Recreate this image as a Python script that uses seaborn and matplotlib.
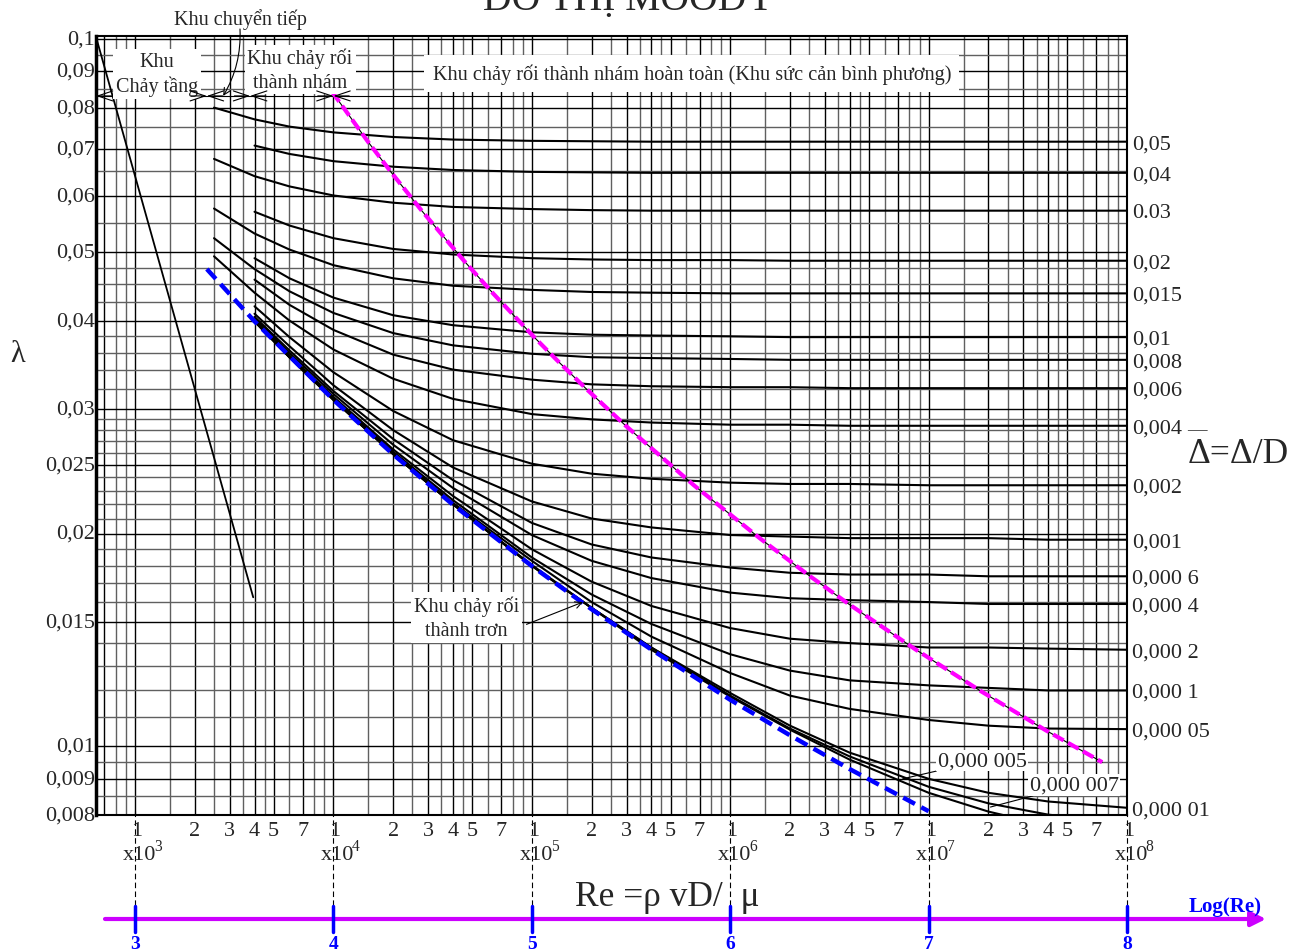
import numpy as np
import pandas as pd
import matplotlib
matplotlib.use("Agg")
import matplotlib.pyplot as plt
import matplotlib.transforms as mtransforms
import seaborn as sns

# ---- Datos (Re, lambda) ----
nan = np.nan
RE = [2500, 4000, 6000, 1e4, 2e4, 4e4, 1e5, 2e5, 4e5, 1e6, 2e6, 4e6, 1e7, 2e7, 4e7, 1e8]

lam_05 = [0.0800, 0.0770, 0.0752, 0.0738, 0.0727, 0.0721, 0.0718, 0.0717, 0.0716, 0.0716, 0.0716, 0.0716, 0.0716, 0.0716, 0.0716, 0.0716]
lam_04 = [nan, 0.0707, 0.0688, 0.0672, 0.0660, 0.0653, 0.0649, 0.0648, 0.0647, 0.0647, 0.0647, 0.0647, 0.0647, 0.0647, 0.0647, 0.0647]
lam_03 = [0.0677, 0.0640, 0.0619, 0.0601, 0.0587, 0.0579, 0.0575, 0.0573, 0.0572, 0.0572, 0.0572, 0.0572, 0.0572, 0.0572, 0.0572, 0.0572]
lam_02 = [nan, 0.0570, 0.0545, 0.0523, 0.0505, 0.0496, 0.0490, 0.0488, 0.0487, 0.0487, 0.0486, 0.0486, 0.0486, 0.0486, 0.0486, 0.0486]
lam_015 = [0.0576, 0.0531, 0.0504, 0.0479, 0.0459, 0.0448, 0.0442, 0.0439, 0.0438, 0.0437, 0.0437, 0.0437, 0.0437, 0.0437, 0.0437, 0.0437]
lam_01 = [nan, 0.0490, 0.0459, 0.0431, 0.0407, 0.0394, 0.0385, 0.0382, 0.0381, 0.0380, 0.0379, 0.0379, 0.0379, 0.0379, 0.0379, 0.0379]
lam_008 = [0.0523, 0.0473, 0.0440, 0.0410, 0.0384, 0.0369, 0.0359, 0.0355, 0.0354, 0.0353, 0.0352, 0.0352, 0.0352, 0.0352, 0.0352, 0.0352]
lam_006 = [nan, 0.0457, 0.0421, 0.0388, 0.0358, 0.0341, 0.0330, 0.0325, 0.0323, 0.0322, 0.0322, 0.0321, 0.0321, 0.0321, 0.0321, 0.0321]
lam_004 = [0.0493, 0.0438, 0.0400, 0.0364, 0.0331, 0.0310, 0.0295, 0.0290, 0.0287, 0.0285, 0.0285, 0.0284, 0.0284, 0.0284, 0.0284, 0.0284]
lam_002 = [nan, 0.0419, 0.0379, 0.0338, 0.0298, 0.0271, 0.0251, 0.0243, 0.0239, 0.0236, 0.0235, 0.0235, 0.0234, 0.0234, 0.0234, 0.0234]
lam_001 = [nan, 0.0409, 0.0368, 0.0324, 0.0280, 0.0248, 0.0222, 0.0210, 0.0204, 0.0199, 0.0198, 0.0197, 0.0197, 0.0197, 0.0196, 0.0196]
lam_0006 = [nan, 0.0405, 0.0363, 0.0318, 0.0272, 0.0238, 0.0207, 0.0193, 0.0185, 0.0179, 0.0176, 0.0175, 0.0175, 0.0174, 0.0174, 0.0174]
lam_0004 = [nan, 0.0403, 0.0360, 0.0315, 0.0267, 0.0232, 0.0199, 0.0183, 0.0173, 0.0165, 0.0162, 0.0161, 0.0160, 0.0159, 0.0159, 0.0159]
lam_0002 = [nan, 0.0401, 0.0357, 0.0312, 0.0263, 0.0226, 0.0190, 0.0171, 0.0158, 0.0147, 0.0142, 0.0140, 0.0138, 0.0138, 0.01375, 0.0137]
lam_0001 = [nan, 0.0400, 0.0356, 0.0311, 0.0261, 0.0223, 0.0185, 0.0164, 0.0149, 0.0135, 0.0128, 0.0124, 0.0122, 0.0121, 0.0120, 0.0120]
lam_00005 = [nan, 0.0400, 0.0355, 0.0310, 0.0260, 0.0221, 0.0183, 0.0160, 0.0143, 0.0127, 0.0118, 0.0113, 0.0109, 0.0107, 0.0106, 0.01058]
lam_00001 = [nan, 0.0399, 0.0355, 0.0309, 0.0259, 0.0220, 0.01805, 0.0157, 0.0138, 0.0119, 0.0107, 0.0098, 0.0090, 0.0086, 0.00836, 0.00819]
lam_000007 = [nan, 0.0399, 0.0355, 0.0309, 0.0259, 0.0220, 0.0180, 0.0157, 0.0138, 0.0118, 0.0106, 0.00968, 0.00877, 0.00831, 0.00801, 0.0078]
lam_000005 = [nan, 0.0399, 0.0355, 0.0309, 0.0259, 0.0220, 0.0180, 0.0157, 0.0137, 0.01176, 0.01056, 0.00958, 0.0086, 0.00809, 0.00773, nan]

CURVAS = [lam_05, lam_04, lam_03, lam_02, lam_015, lam_01, lam_008, lam_006, lam_004,
          lam_002, lam_001, lam_0006, lam_0004, lam_0002, lam_0001, lam_00005,
          lam_00001, lam_000007, lam_000005]
ETIQUETAS = ['0,05', '0,04', '0.03', '0,02', '0,015', '0,01', '0,008', '0,006', '0,004',
             '0,002', '0,001', '0,000 6', '0,000 4', '0,000 2', '0,000 1', '0,000 05',
             '0,000 01', '', '']

# tubo liso (linea azul)
LISO_RE = [2300, 4000, 1e4, 2e4, 4e4, 1e5, 2e5, 4e5, 1e6, 2e6, 4e6, 1e7]
LISO_L = [0.0473, 0.0399, 0.0309, 0.02587, 0.02197, 0.01799, 0.01563, 0.01371, 0.01164, 0.01037, 0.00929, 0.0081]

# limite de la zona rugosa (linea magenta)
LIM_RE = [9850, 14950, 19660, 27880, 45340, 63790, 102700, 133300, 186000, 296600,
          653400, 1427000, 2527000, 3966000, 8534000, 18270000, 38950000, 75000000]
LIM_L = [0.0842, 0.07155, 0.06467, 0.05718, 0.04864, 0.04369, 0.0379, 0.0352, 0.03212, 0.02842,
         0.02342, 0.01964, 0.0174, 0.01589, 0.01373, 0.01198, 0.01054, 0.0095]

# flujo laminar
LAM_RE = [640, 3940]
LAM_L = [0.1, 0.01625]

Y_TICKS = [0.1, 0.09, 0.08, 0.07, 0.06, 0.05, 0.04, 0.03, 0.025, 0.02, 0.015, 0.01, 0.009, 0.008]
Y_LABELS = ['0,1', '0,09', '0,08', '0,07', '0,06', '0,05', '0,04', '0,03', '0,025', '0,02',
            '0,015', '0,01', '0,009', '0,008']
DECADAS = [3, 4, 5, 6, 7, 8]
X_MENORES = [2, 3, 4, 5, 7]

GRID_K = [1, 1.5, 2, 2.5, 3, 3.5, 4, 4.5, 5, 6, 7, 8, 9]
GRID_LAM = ([0.008, 0.0085, 0.009, 0.0095] + [round(0.010 + 0.001 * i, 4) for i in range(10)]
            + [round(0.020 + 0.001 * i, 4) for i in range(10)]
            + [round(0.030 + 0.002 * i, 4) for i in range(5)]
            + [round(0.040 + 0.0025 * i, 4) for i in range(4)]
            + [round(0.050 + 0.005 * i, 4) for i in range(11)])

# ---- Figura ----
sns.set_theme(style="white")
plt.rcParams['font.family'] = ['Liberation Serif', 'DejaVu Serif']
SERIF = ['Liberation Serif', 'DejaVu Serif']

W, H = 1299, 953
fig = plt.figure(figsize=(W / 100, H / 100), dpi=100)
ax = fig.add_axes([96 / W, 1 - 816 / H, 1031 / W, 779 / H])
ax.set_xscale('log')
ax.set_yscale('log')
ax.set_xlim(10 ** 2.803, 1e8)
ax.set_ylim(0.008, 0.101)
ax.xaxis.set_major_locator(matplotlib.ticker.NullLocator())
ax.xaxis.set_minor_locator(matplotlib.ticker.NullLocator())
ax.yaxis.set_major_locator(matplotlib.ticker.NullLocator())
ax.yaxis.set_minor_locator(matplotlib.ticker.NullLocator())
for s in ax.spines.values():
    s.set_color('black')
    s.set_linewidth(1.5)
ax.spines['left'].set_linewidth(2.5)

# cuadricula
for n in range(2, 8):
    for k in GRID_K:
        r = k * 10 ** n
        if 10 ** 2.803 < r < 1e8:
            negro = k in (1, 2, 3, 4, 5, 7)
            ax.axvline(r, color='black' if negro else '#606060', lw=1.0, zorder=1)
for l in GRID_LAM:
    ax.axhline(l, color='black' if l in Y_TICKS else '#606060', lw=1.0, zorder=1)

# curvas de rugosidad
filas = []
for i, (lab, vals) in enumerate(zip(ETIQUETAS, CURVAS)):
    for re, v in zip(RE, vals):
        if not np.isnan(v):
            filas.append({'curva': i, 'Re': re, 'lam': v})
df = pd.DataFrame(filas)
sns.lineplot(data=df, x='Re', y='lam', units='curva', estimator=None, color='black',
             lw=1.5, ax=ax, legend=False, sort=False, zorder=4)

# laminar
sns.lineplot(x=LAM_RE, y=LAM_L, color='black', lw=1.3, ax=ax, zorder=4)
# limite (negro fino + magenta)
sns.lineplot(x=LIM_RE, y=LIM_L, color='black', lw=0.8, ax=ax, sort=False, zorder=4)
sns.lineplot(x=LIM_RE, y=LIM_L, color='#ff00ff', lw=3, ax=ax, sort=False, zorder=5,
             linestyle=(0, (2.9, 1.2)))
# tubo liso
sns.lineplot(x=LISO_RE, y=LISO_L, color='#0000ff', lw=3.2, ax=ax, sort=False, zorder=5,
             linestyle=(0, (3, 1.6)))
ax.set_xlabel('')
ax.set_ylabel('')

fs = 16
# etiquetas eje y
ty = mtransforms.blended_transform_factory(ax.transAxes, ax.transData)
for v, t in zip(Y_TICKS, Y_LABELS):
    ax.text(-0.001, v, t, transform=ty, ha='right', va='center', fontsize=fs, family=SERIF)

# etiquetas de rugosidad a la derecha (un poco por debajo del final de la curva)
ty_baja = ty + mtransforms.ScaledTranslation(0, -2 / 100, fig.dpi_scale_trans)
for lab, vals in zip(ETIQUETAS, CURVAS):
    if lab:
        ax.text(1.005, vals[-1], lab, transform=ty_baja, ha='left', va='center', fontsize=fs,
                family=SERIF)

# etiquetas eje x
tx = mtransforms.blended_transform_factory(ax.transData, fig.transFigure)
def fy(px):
    return 1 - px / H

for d in DECADAS:
    r = 10.0 ** d
    ax.text(r * 1.02, fy(832), '1', transform=tx, ha='center', va='center', fontsize=fs, family=SERIF)
    ax.text(r * 1.05, fy(856), 'x10', transform=tx, ha='center', va='center', fontsize=fs, family=SERIF)
    ax.text(r * 1.30, fy(847), str(d), transform=tx, ha='center', va='center', fontsize=fs * 0.7, family=SERIF)
    ax.plot([r, r], [fy(812), fy(930)], transform=tx, color='black', lw=0.8,
            linestyle=(0, (5, 3)), clip_on=False)
    ax.plot([r, r], [fy(907), fy(933)], transform=tx, color='#0000ff', lw=2.5, clip_on=False, zorder=6)
    ax.text(r, fy(945), str(d), transform=tx, ha='center', va='center', fontsize=14,
            fontweight='bold', color='#0000ff', family=SERIF)
    if d < 8:
        for m in X_MENORES:
            ax.text(m * r, fy(832), str(m), transform=tx, ha='center', va='center', fontsize=fs, family=SERIF)

# eje Log(Re)
ax.annotate('', xy=(1266 / W, fy(920)), xytext=(105 / W, fy(920)), xycoords='figure fraction',
            arrowprops=dict(arrowstyle='-|>', color='#cc00ff', lw=3, mutation_scale=22,
                            shrinkA=0, shrinkB=0))
fig.text(1225 / W, fy(907), 'Log(Re)', ha='center', va='center', fontsize=15, fontweight='bold',
         color='#0000ff', family=SERIF)

fig.text(667 / W, fy(898), 'Re =ρ vD/  μ', ha='center', va='center', fontsize=25.5, family=SERIF)
fig.text(18 / W, fy(355), 'λ', ha='center', va='center', fontsize=22, family=SERIF)
fig.text(1238 / W, fy(455), 'Δ=Δ/D', ha='center', va='center', fontsize=25.5, family=SERIF)
fig.text(1197 / W, fy(431), '—', ha='center', va='center', fontsize=14, family=SERIF)
fig.text(629 / W, fy(10), 'ĐỒ THỊ MOODY', ha='center', va='baseline', fontsize=28.5, family=SERIF)

# textos de zonas
caja = dict(facecolor='white', edgecolor='none', pad=2)
lam_cota = 0.0831
ax.text(1290, 0.0893, 'Khu\nChảy tầng', ha='center', va='center', fontsize=14.5, family=SERIF,
        bbox=caja, zorder=6, linespacing=1.3)
ax.text(6790, 0.0905, 'Khu chảy rối\nthành nhám', ha='center', va='center', fontsize=14.5,
        family=SERIF, bbox=caja, zorder=6, linespacing=1.3)
ax.text(6.4e5, 0.0893, 'Khu chảy rối thành nhám hoàn toàn (Khu sức cản bình phương)',
        ha='center', va='center', fontsize=14.6, family=SERIF,
        bbox=dict(facecolor='white', edgecolor='none', pad=6), zorder=6)
fig.text(240 / W, fy(20), 'Khu chuyển tiếp', ha='center', va='center', fontsize=14.5, family=SERIF)
ax.annotate('', xy=(2780, lam_cota), xytext=(240 / W, fy(30)), xycoords='data',
            textcoords='figure fraction',
            arrowprops=dict(arrowstyle='->', lw=0.8, color='black', connectionstyle='arc3,rad=-0.15',
                            shrinkA=0, shrinkB=0))
# linea de cotas de zonas
ax.axhline(lam_cota, color='black', lw=0.8, zorder=2)
for b in [10 ** 2.803, 2300, 3800, 1e4]:
    for f in (1 / 1.2, 1.2):
        if b * f > 10 ** 2.803:
            ax.annotate('', xy=(b, lam_cota), xytext=(b * f, lam_cota),
                        arrowprops=dict(arrowstyle='->,head_length=0.9,head_width=0.3', lw=0.8,
                                        color='black', shrinkA=0, shrinkB=0), zorder=6)

ax.text(46800, 0.0152, 'Khu chảy rối\nthành trơn', ha='center', va='center', fontsize=14.5,
        family=SERIF, bbox=caja, zorder=6, linespacing=1.4)
ax.annotate('', xy=(1.81e5, 0.0160), xytext=(9.4e4, 0.01488),
            arrowprops=dict(arrowstyle='->', lw=0.8, color='black', shrinkA=0, shrinkB=0), zorder=6)

ax.annotate('0,000 005', xy=(7.4e6, 0.0090), xytext=(1.11e7, 0.00955), ha='left', va='center',
            fontsize=fs, family=SERIF, bbox=dict(facecolor='white', edgecolor='none', pad=1),
            arrowprops=dict(arrowstyle='-', lw=0.8, color='black', shrinkA=0, shrinkB=0), zorder=6)
ax.annotate('0,000 007', xy=(2.05e7, 0.00821), xytext=(3.23e7, 0.00882), ha='left', va='center',
            fontsize=fs, family=SERIF, bbox=dict(facecolor='white', edgecolor='none', pad=1),
            arrowprops=dict(arrowstyle='-', lw=0.8, color='black', shrinkA=0, shrinkB=0), zorder=6)

fig.savefig('out.png', dpi=100)
